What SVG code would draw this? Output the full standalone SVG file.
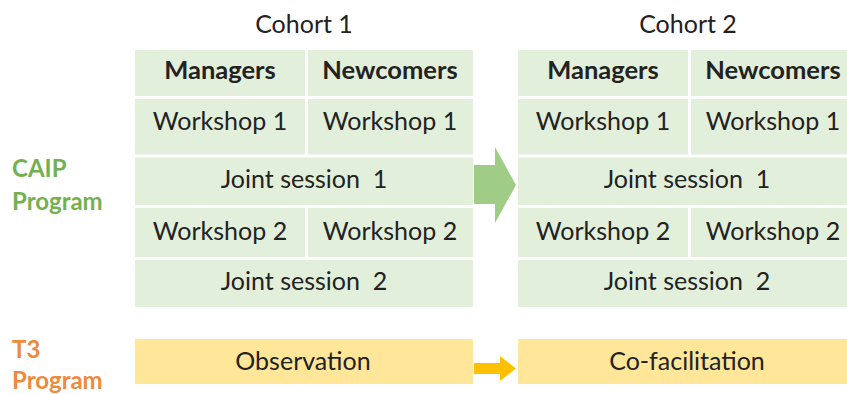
<svg xmlns="http://www.w3.org/2000/svg" width="847" height="394" viewBox="0 0 847 394">
  <style>
    .cell { fill: #e2efda; }
    .sep { stroke: #ffffff; stroke-width: 3; }
    .bar { fill: #ffe699; }
    .t { font-family: Lato, "Liberation Sans", sans-serif; font-size: 25px; fill: #222222; text-anchor: middle; white-space: pre; }
    .b { font-weight: bold; font-size: 25.5px; }
    .lab { font-family: Lato, "Liberation Sans", sans-serif; font-size: 24px; font-weight: bold; }
    .green { fill: #74b052; }
    .orange { fill: #ee8a3c; }
  </style>
  <rect width="847" height="394" fill="#ffffff"/>

  <!-- Row labels -->
  <g id="label-caip">
    <text class="lab green" x="12" y="177">CAIP</text>
    <text class="lab green" x="12" y="210">Program</text>
  </g>
  <g id="label-t3">
    <text class="lab orange" x="12" y="358">T3</text>
    <text class="lab orange" x="12" y="389">Program</text>
  </g>

  <!-- Cohort 1 table -->
  <g id="cohort1">
    <text class="t" x="304" y="33">Cohort 1</text>
    <rect class="cell" x="135" y="50" width="338" height="257"/>
    <line class="sep" x1="135" y1="97.5" x2="473" y2="97.5"/>
    <line class="sep" x1="135" y1="156" x2="473" y2="156"/>
    <line class="sep" x1="135" y1="206.5" x2="473" y2="206.5"/>
    <line class="sep" x1="135" y1="258.5" x2="473" y2="258.5"/>
    <line class="sep" x1="306.5" y1="50" x2="306.5" y2="156"/>
    <line class="sep" x1="306.5" y1="206.5" x2="306.5" y2="258.5"/>
    <text class="t b" x="220" y="79">Managers</text>
    <text class="t b" x="390" y="79">Newcomers</text>
    <text class="t" x="220" y="130">Workshop 1</text>
    <text class="t" x="390" y="130">Workshop 1</text>
    <text class="t" x="304" y="188" xml:space="preserve">Joint session  1</text>
    <text class="t" x="220" y="240">Workshop 2</text>
    <text class="t" x="390" y="240">Workshop 2</text>
    <text class="t" x="304" y="290" xml:space="preserve">Joint session  2</text>
  </g>

  <!-- Cohort 2 table -->
  <g id="cohort2">
    <text class="t" x="688" y="33">Cohort 2</text>
    <rect class="cell" x="518" y="50" width="338" height="257"/>
    <line class="sep" x1="518" y1="97.5" x2="856" y2="97.5"/>
    <line class="sep" x1="518" y1="156" x2="856" y2="156"/>
    <line class="sep" x1="518" y1="206.5" x2="856" y2="206.5"/>
    <line class="sep" x1="518" y1="258.5" x2="856" y2="258.5"/>
    <line class="sep" x1="689.5" y1="50" x2="689.5" y2="156"/>
    <line class="sep" x1="689.5" y1="206.5" x2="689.5" y2="258.5"/>
    <text class="t b" x="603" y="79">Managers</text>
    <text class="t b" x="773" y="79">Newcomers</text>
    <text class="t" x="603" y="130">Workshop 1</text>
    <text class="t" x="773" y="130">Workshop 1</text>
    <text class="t" x="687" y="188" xml:space="preserve">Joint session  1</text>
    <text class="t" x="603" y="240">Workshop 2</text>
    <text class="t" x="773" y="240">Workshop 2</text>
    <text class="t" x="687" y="290" xml:space="preserve">Joint session  2</text>
  </g>

  <!-- T3 program bars -->
  <g id="observation">
    <rect class="bar" x="135" y="339" width="338" height="45"/>
    <text class="t" x="303" y="370">Observation</text>
  </g>
  <g id="cofacilitation">
    <rect class="bar" x="518" y="339" width="338" height="45"/>
    <text class="t" x="687" y="370">Co-facilitation</text>
  </g>

  <!-- Connectors -->
  <g id="connectors">
    <polygon fill="#9fcd85" points="474,165 495,165 495,147 516,185 495,223 495,204 474,204"/>
    <polygon fill="#ffc000" points="474,363 500,363 500,356 516,368.5 500,381 500,374 474,374"/>
  </g>
</svg>
